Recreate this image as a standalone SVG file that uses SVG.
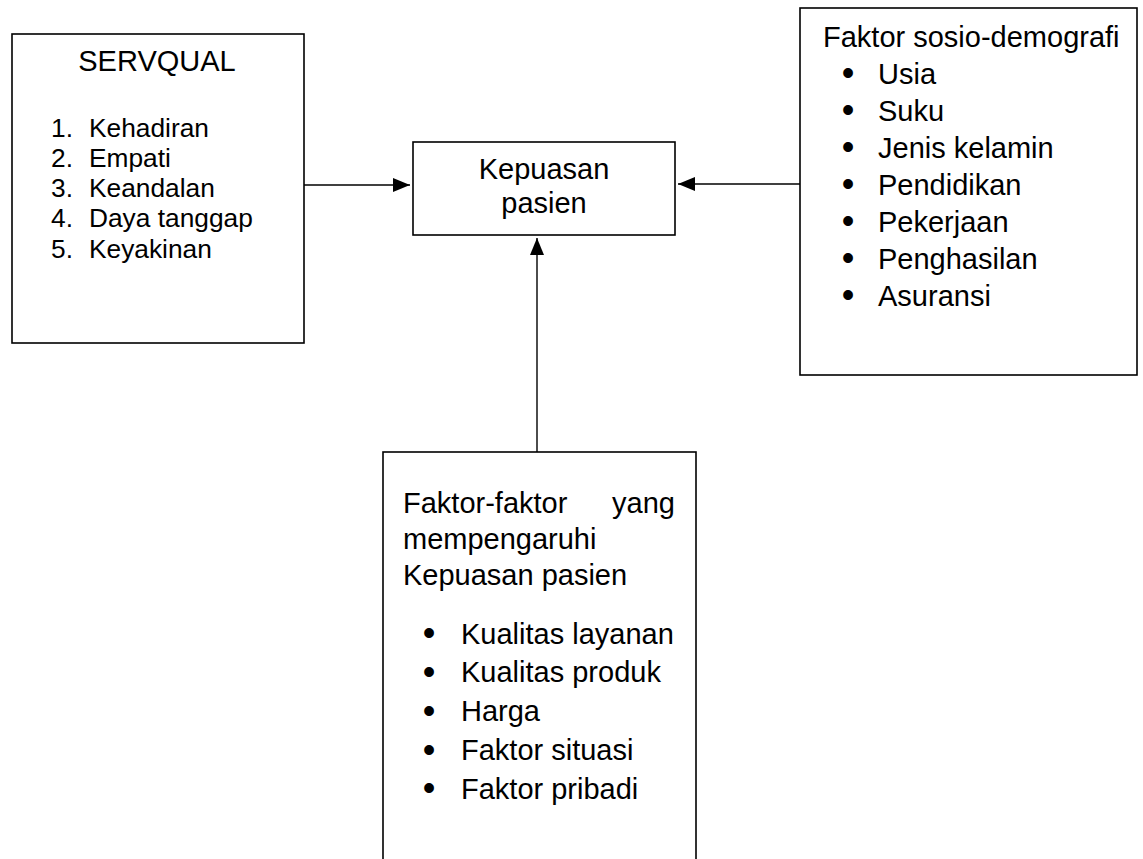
<svg xmlns="http://www.w3.org/2000/svg" width="1143" height="859" viewBox="0 0 1143 859">
<style>
.box{fill:#fff;stroke:#000;stroke-width:1.6}
.t{font-family:"Liberation Sans",Arial,sans-serif;font-size:29px;fill:#000}
.s{font-size:26.3px}
.c{text-anchor:middle}
.e{text-anchor:end}
.b{font-size:36px;text-anchor:middle}
.ln{stroke:#000;stroke-width:1.4;fill:none}
</style>
<defs>
<marker id="ah" markerUnits="userSpaceOnUse" markerWidth="17" markerHeight="14" refX="17" refY="7" orient="auto">
<path d="M0,0 L17,7 L0,14 z" fill="#000"/>
</marker>
</defs>
<rect width="1143" height="859" fill="#fff"/>
<g id="connectors">
<line class="ln" x1="304" y1="185" x2="410" y2="185" marker-end="url(#ah)"/>
<line class="ln" x1="800" y1="184" x2="678" y2="184" marker-end="url(#ah)"/>
<line class="ln" x1="537" y1="452" x2="537" y2="238" marker-end="url(#ah)"/>
</g>
<g id="servqual">
<rect class="box" x="12" y="34" width="292" height="309"/>
<text class="t c" x="157" y="70.5">SERVQUAL</text>
<g class="t s">
<text x="51" y="136.5">1.</text><text x="89" y="136.5">Kehadiran</text>
<text x="51" y="166.8">2.</text><text x="89" y="166.8">Empati</text>
<text x="51" y="197">3.</text><text x="89" y="197">Keandalan</text>
<text x="51" y="227.3">4.</text><text x="89" y="227.3">Daya tanggap</text>
<text x="51" y="257.5">5.</text><text x="89" y="257.5">Keyakinan</text>
</g>
</g>
<g id="kepuasan">
<rect class="box" x="413" y="142" width="262" height="93"/>
<text class="t c" x="544" y="179">Kepuasan</text>
<text class="t c" x="544" y="213">pasien</text>
</g>
<g id="sosio">
<rect class="box" x="800" y="8" width="337" height="367"/>
<text class="t" x="823" y="46.5">Faktor sosio-demografi</text>
<g class="t">
<text class="b" x="848" y="85">•</text><text x="878" y="83.5">Usia</text>
<text class="b" x="848" y="122">•</text><text x="878" y="120.5">Suku</text>
<text class="b" x="848" y="159">•</text><text x="878" y="157.5">Jenis kelamin</text>
<text class="b" x="848" y="196">•</text><text x="878" y="194.5">Pendidikan</text>
<text class="b" x="848" y="233">•</text><text x="878" y="231.5">Pekerjaan</text>
<text class="b" x="848" y="270">•</text><text x="878" y="268.5">Penghasilan</text>
<text class="b" x="848" y="307">•</text><text x="878" y="305.5">Asuransi</text>
</g>
</g>
<g id="faktor">
<rect class="box" x="383" y="452" width="313" height="430"/>
<g class="t">
<text x="403" y="513">Faktor-faktor</text><text class="e" x="675" y="513">yang</text>
<text x="403" y="549">mempengaruhi</text>
<text x="403" y="585">Kepuasan pasien</text>
<text class="b" x="429" y="645">•</text><text x="461" y="643.5">Kualitas layanan</text>
<text class="b" x="429" y="683.5">•</text><text x="461" y="682">Kualitas produk</text>
<text class="b" x="429" y="722.5">•</text><text x="461" y="721">Harga</text>
<text class="b" x="429" y="761.5">•</text><text x="461" y="760">Faktor situasi</text>
<text class="b" x="429" y="800">•</text><text x="461" y="798.5">Faktor pribadi</text>
</g>
</g>
</svg>
